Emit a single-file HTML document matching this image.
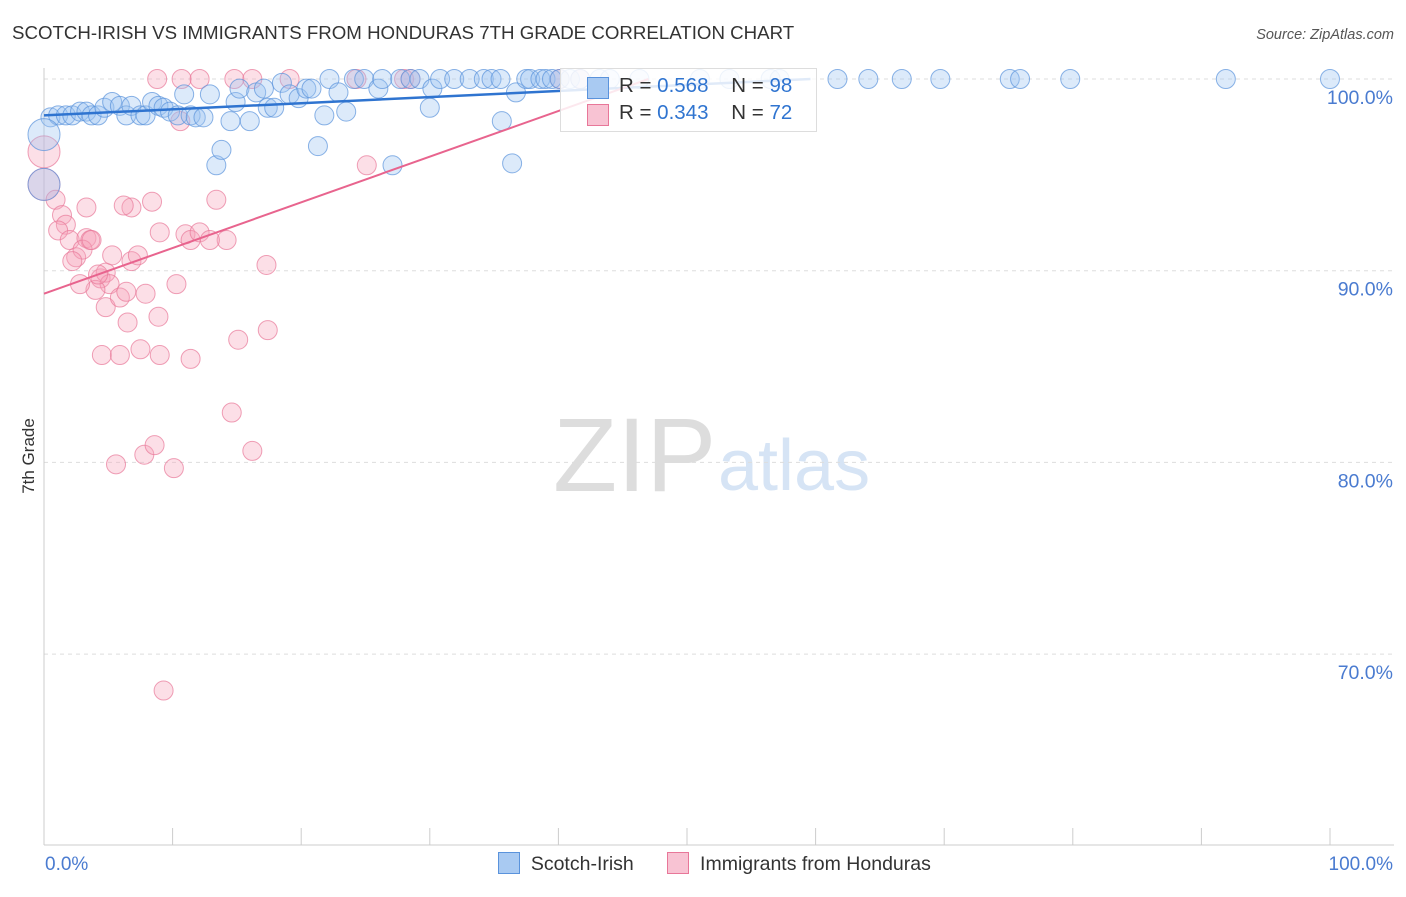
<!DOCTYPE html>
<html><head><meta charset="utf-8"><style>
body{margin:0;background:#fff;font-family:"Liberation Sans",sans-serif}
svg text{font-family:"Liberation Sans",sans-serif}
</style></head><body>
<svg id="c" width="1406" height="892">
<text x="12" y="39" font-size="18.7" fill="#333">SCOTCH-IRISH VS IMMIGRANTS FROM HONDURAS 7TH GRADE CORRELATION CHART</text>
<text x="1394" y="39" font-size="14.5" fill="#555" font-style="italic" text-anchor="end">Source: ZipAtlas.com</text>
<text x="34" y="456" font-size="17" fill="#333" transform="rotate(-90 34 456)" text-anchor="middle">7th Grade</text>
<text x="553" y="491" font-size="105" fill="#ddd" font-family="Liberation Serif">ZIP</text>
<text x="718" y="490" font-size="72" fill="#d6e4f5">atlas</text>
<g id="grid"></g><g id="marks"></g>
</svg>
<script>
const yTicks=[100,90,80,70];
const xTickLabels=["0.0%","100.0%"];
const blueX=[0.5,1.1,1.7,2.2,2.8,3.3,3.7,4.2,4.7,5.3,5.9,6.4,6.8,7.5,7.9,8.4,8.9,9.3,9.8,10.4,10.9,11.4,11.8,12.4,12.9,13.4,13.8,14.5,14.9,15.2,16.0,16.5,17.1,17.4,17.9,18.5,19.1,19.8,20.4,20.8,21.3,21.8,22.2,22.9,23.5,24.1,24.9,26.0,26.3,27.1,27.7,28.5,29.2,30.2,30.0,30.8,31.9,33.1,34.2,34.8,35.5,35.6,36.4,36.7,37.5,37.8,38.6,39.0,39.5,40.1,40.9,41.7,43.2,44.0,46.3,51.0,53.3,56.5,57.2,61.7,64.1,66.7,69.7,75.1,75.9,79.8,91.9,100,0,0];
const blueY=[98.0,98.1,98.1,98.1,98.3,98.3,98.1,98.1,98.5,98.8,98.6,98.1,98.6,98.1,98.1,98.8,98.6,98.5,98.3,98.1,99.2,98.1,98.0,98.0,99.2,95.5,96.3,97.8,98.8,99.5,97.8,99.3,99.5,98.5,98.5,99.8,99.2,99.0,99.5,99.5,96.5,98.1,100,99.3,98.3,100,100,99.5,100,95.5,100,100,100,99.5,98.5,100,100,100,100,100,100,97.8,95.6,99.3,100,100,100,100,100,100,100,100,100,100,100,100,100,100,100,100,100,100,100,100,100,100,100,100,97.1,94.5];
const blueR=blueX.map((v,i)=>i>=88?16:9.5);
const pinkX=[0,0,8.8,10.7,12.1,14.8,19.1,24.3,28.0,28.5,40.1,41.7,10.6,16.2,25.1,0.9,1.4,1.7,1.1,2.0,2.5,3.3,3.6,3.0,2.2,4.4,4.8,5.1,4.0,2.8,4.8,5.9,6.4,6.8,7.3,7.9,8.4,9.0,6.8,11.0,11.4,12.1,13.4,14.2,17.3,10.3,8.9,6.5,4.5,5.9,9.0,11.4,7.5,15.1,17.4,14.6,16.2,5.6,7.8,8.6,10.1,9.3,3.3,3.7,12.9,5.3,6.2,4.2];
const pinkY=[96.2,94.5,100,100,100,100,100,100,100,100,100,100,97.8,100,95.5,93.7,92.9,92.4,92.1,91.6,90.7,91.7,91.6,91.1,90.5,89.6,89.9,89.3,89.0,89.3,88.1,88.6,88.9,90.5,90.8,88.8,93.6,92.0,93.3,91.9,91.6,92.0,93.7,91.6,90.3,89.3,87.6,87.3,85.6,85.6,85.6,85.4,85.9,86.4,86.9,82.6,80.6,79.9,80.4,80.9,79.7,68.1,93.3,91.6,91.6,90.8,93.4,89.8];
const pinkR=pinkX.map((v,i)=>i<2?16:9.5);
const blueLine=[[0,98.1],[59.6,100]];
const pinkLine=[[0,88.8],[47,100]];
const sx=v=>44+v*12.86, sy=v=>79+(100-v)*19.17;
const NS="http://www.w3.org/2000/svg";
function mk(t,a,p){const e=document.createElementNS(NS,t);for(const k in a)e.setAttribute(k,a[k]);p.appendChild(e);return e;}
const grid=document.getElementById('grid'), marks=document.getElementById('marks');
yTicks.forEach(t=>{
 const l=mk('line',{x1:44,x2:1394,y1:sy(t),y2:sy(t),stroke:'#ddd','stroke-dasharray':'4,4'},grid);
 
 
 const tx=mk('text',{x:1393,y:sy(t)+25,'font-size':19.5,fill:'#4a7bd0','text-anchor':'end'},grid);
 tx.textContent=t.toFixed(1)+'%';
 
 
});
const ax=mk('line',{x1:44,x2:1394,y1:845,y2:845,stroke:'#ccc'},grid);


const ay=mk('line',{x1:44,x2:44,y1:68,y2:845,stroke:'#ccc'},grid);


for(let i=0;i<=10;i++){const tk=mk('line',{x1:sx(i*10),x2:sx(i*10),y1:828,y2:845,stroke:'#ccc'},grid);
 
 }
[[45,'start',0],[1393,'end',1]].forEach(([x,a,i])=>{const t=mk('text',{x:x,y:870,'font-size':19,fill:'#4a7bd0','text-anchor':a},grid);t.textContent=xTickLabels[i];
 
 });
function pts(X,Y,R,fill,stroke,name){X.forEach((x,i)=>{const c=mk('circle',{cx:sx(x),cy:sy(Y[i]),r:R[i],fill:fill,'fill-opacity':0.35,stroke:stroke,'stroke-opacity':0.7,'stroke-width':1},marks);
 
 });}
pts(pinkX,pinkY,pinkR,'#f5a3bb','#e87799','pink-point');
pts(blueX,blueY,blueR,'#9cc3f0','#5a93dc','blue-point');
const bl=mk('line',{x1:sx(blueLine[0][0]),y1:sy(blueLine[0][1]),x2:sx(blueLine[1][0]),y2:sy(blueLine[1][1]),stroke:'#2f74d0','stroke-width':2.5},marks);


const pl=mk('line',{x1:sx(pinkLine[0][0]),y1:sy(pinkLine[0][1]),x2:sx(pinkLine[1][0]),y2:sy(pinkLine[1][1]),stroke:'#e8648e','stroke-width':2},marks);


</script>
<div style="position:absolute;left:560px;top:68px;width:255px;height:62px;background:rgba(255,255,255,0.85);border:1px solid #ddd;font-size:20.5px;color:#333;white-space:nowrap">
 <div style="position:absolute;left:26px;top:8px;width:20px;height:20px;background:#a9caf2;border:1px solid #5a93dc"></div>
 <div style="position:absolute;left:58px;top:5px">R = <span style="color:#2f74d0">0.568</span>&nbsp;&nbsp;&nbsp; N = <span style="color:#2f74d0">98</span></div>
 <div style="position:absolute;left:26px;top:35px;width:20px;height:20px;background:#f8c3d3;border:1px solid #e87799"></div>
 <div style="position:absolute;left:58px;top:32px">R = <span style="color:#2f74d0">0.343</span>&nbsp;&nbsp;&nbsp; N = <span style="color:#2f74d0">72</span></div>
</div>
<div style="position:absolute;left:498px;top:852px;font-size:19.5px;color:#333;white-space:nowrap">
 <span style="display:inline-block;width:20px;height:20px;background:#a9caf2;border:1px solid #5a93dc;vertical-align:-4px"></span>&nbsp; Scotch-Irish
 <span style="display:inline-block;width:20px;height:20px;background:#f8c3d3;border:1px solid #e87799;vertical-align:-4px;margin-left:28px"></span>&nbsp; Immigrants from Honduras
</div>
</body></html>
